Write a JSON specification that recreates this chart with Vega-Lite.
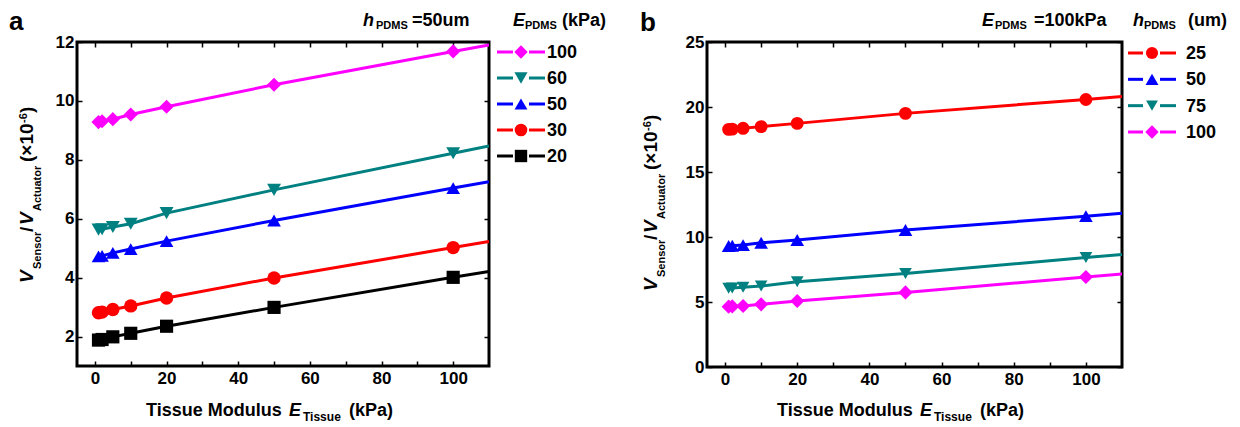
{
  "$schema": "https://vega.github.io/schema/vega-lite/v6.json",
  "padding": {"left": 7, "top": 7, "right": 5, "bottom": 5},
  "background": "white",
  "bounds": "flush",
  "spacing": 0,
  "datasets": {
    "a": [
      {"series": "100", "x": 1, "y": 9.28, "k": "p"}, {"series": "100", "x": 2, "y": 9.31, "k": "p"}, {"series": "100", "x": 5, "y": 9.38, "k": "p"}, {"series": "100", "x": 10, "y": 9.54, "k": "p"}, {"series": "100", "x": 20, "y": 9.8, "k": "p"}, {"series": "100", "x": 50, "y": 10.55, "k": "p"}, {"series": "100", "x": 100, "y": 11.68, "k": "p"}, {"series": "100", "x": 110, "y": 11.9, "k": "e"},
      {"series": "60", "x": 1, "y": 5.63, "k": "p"}, {"series": "60", "x": 2, "y": 5.64, "k": "p"}, {"series": "60", "x": 5, "y": 5.72, "k": "p"}, {"series": "60", "x": 10, "y": 5.83, "k": "p"}, {"series": "60", "x": 20, "y": 6.19, "k": "p"}, {"series": "60", "x": 50, "y": 6.98, "k": "p"}, {"series": "60", "x": 100, "y": 8.22, "k": "p"}, {"series": "60", "x": 110, "y": 8.47, "k": "e"},
      {"series": "50", "x": 1, "y": 4.72, "k": "p"}, {"series": "50", "x": 2, "y": 4.74, "k": "p"}, {"series": "50", "x": 5, "y": 4.84, "k": "p"}, {"series": "50", "x": 10, "y": 4.97, "k": "p"}, {"series": "50", "x": 20, "y": 5.24, "k": "p"}, {"series": "50", "x": 50, "y": 5.94, "k": "p"}, {"series": "50", "x": 100, "y": 7.04, "k": "p"}, {"series": "50", "x": 110, "y": 7.26, "k": "e"},
      {"series": "30", "x": 1, "y": 2.81, "k": "p"}, {"series": "30", "x": 2, "y": 2.83, "k": "p"}, {"series": "30", "x": 5, "y": 2.92, "k": "p"}, {"series": "30", "x": 10, "y": 3.04, "k": "p"}, {"series": "30", "x": 20, "y": 3.31, "k": "p"}, {"series": "30", "x": 50, "y": 3.99, "k": "p"}, {"series": "30", "x": 100, "y": 5.02, "k": "p"}, {"series": "30", "x": 110, "y": 5.23, "k": "e"},
      {"series": "20", "x": 1, "y": 1.88, "k": "p"}, {"series": "20", "x": 2, "y": 1.9, "k": "p"}, {"series": "20", "x": 5, "y": 1.99, "k": "p"}, {"series": "20", "x": 10, "y": 2.11, "k": "p"}, {"series": "20", "x": 20, "y": 2.35, "k": "p"}, {"series": "20", "x": 50, "y": 2.99, "k": "p"}, {"series": "20", "x": 100, "y": 4.01, "k": "p"}, {"series": "20", "x": 110, "y": 4.21, "k": "e"}
    ],
    "b": [
      {"series": "25", "x": 1, "y": 18.28, "k": "p"}, {"series": "25", "x": 2, "y": 18.3, "k": "p"}, {"series": "25", "x": 5, "y": 18.36, "k": "p"}, {"series": "25", "x": 10, "y": 18.49, "k": "p"}, {"series": "25", "x": 20, "y": 18.74, "k": "p"}, {"series": "25", "x": 50, "y": 19.51, "k": "p"}, {"series": "25", "x": 100, "y": 20.58, "k": "p"}, {"series": "25", "x": 110, "y": 20.8, "k": "e"},
      {"series": "50", "x": 1, "y": 9.31, "k": "p"}, {"series": "50", "x": 2, "y": 9.33, "k": "p"}, {"series": "50", "x": 5, "y": 9.38, "k": "p"}, {"series": "50", "x": 10, "y": 9.56, "k": "p"}, {"series": "50", "x": 20, "y": 9.77, "k": "p"}, {"series": "50", "x": 50, "y": 10.54, "k": "p"}, {"series": "50", "x": 100, "y": 11.6, "k": "p"}, {"series": "50", "x": 110, "y": 11.82, "k": "e"},
      {"series": "75", "x": 1, "y": 6.05, "k": "p"}, {"series": "75", "x": 2, "y": 6.07, "k": "p"}, {"series": "75", "x": 5, "y": 6.13, "k": "p"}, {"series": "75", "x": 10, "y": 6.23, "k": "p"}, {"series": "75", "x": 20, "y": 6.56, "k": "p"}, {"series": "75", "x": 50, "y": 7.2, "k": "p"}, {"series": "75", "x": 100, "y": 8.42, "k": "p"}, {"series": "75", "x": 110, "y": 8.66, "k": "e"},
      {"series": "100", "x": 1, "y": 4.64, "k": "p"}, {"series": "100", "x": 2, "y": 4.66, "k": "p"}, {"series": "100", "x": 5, "y": 4.69, "k": "p"}, {"series": "100", "x": 10, "y": 4.82, "k": "p"}, {"series": "100", "x": 20, "y": 5.08, "k": "p"}, {"series": "100", "x": 50, "y": 5.74, "k": "p"}, {"series": "100", "x": 100, "y": 6.92, "k": "p"}, {"series": "100", "x": 110, "y": 7.15, "k": "e"}
    ],
    "legA": [{"series": "100"}, {"series": "60"}, {"series": "50"}, {"series": "30"}, {"series": "20"}],
    "legB": [{"series": "25"}, {"series": "50"}, {"series": "75"}, {"series": "100"}]
  },
  "resolve": {"scale": {"x": "independent", "y": "independent", "color": "independent", "shape": "independent", "size": "independent"}},
  "hconcat": [
    {
      "width": 412, "height": 324,
      "data": {"name": "a"},
      "resolve": {"axis": {"x": "independent", "y": "independent"}},
      "layer": [
        {
          "mark": {"type": "line", "strokeWidth": 3, "clip": true},
          "encoding": {
            "x": {"field": "x", "type": "quantitative", "scale": {"domain": [-5, 110], "nice": false, "zero": false}, "axis": {"values": [0, 10, 20, 30, 40, 50, 60, 70, 80, 90, 100], "labelExpr": "datum.value % 20 === 0 ? datum.label : ''", "labelPadding": 9}, "title": null},
            "y": {"field": "y", "type": "quantitative", "scale": {"domain": [1, 12], "nice": false, "zero": false}, "axis": {"values": [2, 4, 6, 8, 10, 12]}, "title": null},
            "color": {"field": "series", "type": "nominal", "scale": {"domain": ["100", "60", "50", "30", "20", "25", "75"], "range": ["#FF00FF", "#008080", "#0000FF", "#FF0000", "#000000", "#FF0000", "#008080"]}, "legend": null}
          }
        },
        {
          "transform": [{"filter": "datum.k === 'p'"}],
          "mark": {"type": "point", "filled": true, "opacity": 1},
          "encoding": {
            "x": {"field": "x", "type": "quantitative", "axis": {"values": [0, 10, 20, 30, 40, 50, 60, 70, 80, 90, 100], "labels": false, "title": null}},
            "y": {"field": "y", "type": "quantitative", "axis": {"values": [2, 4, 6, 8, 10, 12], "labels": false, "title": null}},
            "color": {"field": "series", "type": "nominal", "legend": null},
            "shape": {"field": "series", "type": "nominal", "scale": {"domain": ["100", "60", "50", "30", "20", "25", "75"], "range": ["diamond", "triangle-down", "triangle-up", "circle", "square", "circle", "triangle-down"]}, "legend": null},
            "size": {"field": "series", "type": "nominal", "scale": {"domain": ["100", "60", "50", "30", "20", "25", "75"], "range": [200, 160, 160, 120, 80, 120, 160]}, "legend": null}
          }
        },
        {
          "data": {"values": [{"s": "a"}]},
          "mark": {"type": "text", "align": "left", "baseline": "alphabetic", "fontSize": 26, "dx": -68, "dy": -12},
          "encoding": {"x": {"datum": -5, "axis": null}, "y": {"datum": 12, "axis": null}, "text": {"field": "s"}}
        },
        {
          "data": {"values": [{"s": "h"}]},
          "mark": {"type": "text", "align": "left", "baseline": "alphabetic", "fontSize": 18, "fontStyle": "italic", "dx": -126, "dy": -16},
          "encoding": {"x": {"datum": 110, "axis": null}, "y": {"datum": 12, "axis": null}, "text": {"field": "s"}}
        },
        {
          "data": {"values": [{"s": "PDMS"}]},
          "mark": {"type": "text", "align": "left", "baseline": "alphabetic", "fontSize": 11, "dx": -113, "dy": -13},
          "encoding": {"x": {"datum": 110, "axis": null}, "y": {"datum": 12, "axis": null}, "text": {"field": "s"}}
        },
        {
          "data": {"values": [{"s": "=50um"}]},
          "mark": {"type": "text", "align": "left", "baseline": "alphabetic", "fontSize": 18, "dx": -77, "dy": -16},
          "encoding": {"x": {"datum": 110, "axis": null}, "y": {"datum": 12, "axis": null}, "text": {"field": "s"}}
        },
        {
          "data": {"values": [{"s": "Tissue Modulus"}]},
          "mark": {"type": "text", "align": "left", "baseline": "alphabetic", "fontSize": 18, "dx": 69, "dy": 50},
          "encoding": {"x": {"datum": -5, "axis": null}, "y": {"datum": 1, "axis": null}, "text": {"field": "s"}}
        },
        {
          "data": {"values": [{"s": "E"}]},
          "mark": {"type": "text", "align": "left", "baseline": "alphabetic", "fontSize": 18, "fontStyle": "italic", "dx": 212, "dy": 50},
          "encoding": {"x": {"datum": -5, "axis": null}, "y": {"datum": 1, "axis": null}, "text": {"field": "s"}}
        },
        {
          "data": {"values": [{"s": "Tissue"}]},
          "mark": {"type": "text", "align": "left", "baseline": "alphabetic", "fontSize": 12, "dx": 226, "dy": 55},
          "encoding": {"x": {"datum": -5, "axis": null}, "y": {"datum": 1, "axis": null}, "text": {"field": "s"}}
        },
        {
          "data": {"values": [{"s": "(kPa)"}]},
          "mark": {"type": "text", "align": "left", "baseline": "alphabetic", "fontSize": 18, "dx": 272, "dy": 50},
          "encoding": {"x": {"datum": -5, "axis": null}, "y": {"datum": 1, "axis": null}, "text": {"field": "s"}}
        },
        {
          "data": {"values": [{"s": "V"}]},
          "mark": {"type": "text", "align": "left", "baseline": "alphabetic", "angle": 270, "fontSize": 19, "fontStyle": "italic", "dx": 83, "dy": -44},
          "encoding": {"x": {"datum": -5, "axis": null}, "y": {"datum": 1, "axis": null}, "text": {"field": "s"}}
        },
        {
          "data": {"values": [{"s": "Sensor"}]},
          "mark": {"type": "text", "align": "left", "baseline": "alphabetic", "angle": 270, "fontSize": 11, "dx": 97, "dy": -36},
          "encoding": {"x": {"datum": -5, "axis": null}, "y": {"datum": 1, "axis": null}, "text": {"field": "s"}}
        },
        {
          "data": {"values": [{"s": "/"}]},
          "mark": {"type": "text", "align": "left", "baseline": "alphabetic", "angle": 270, "fontSize": 19, "dx": 134, "dy": -44},
          "encoding": {"x": {"datum": -5, "axis": null}, "y": {"datum": 1, "axis": null}, "text": {"field": "s"}}
        },
        {
          "data": {"values": [{"s": "V"}]},
          "mark": {"type": "text", "align": "left", "baseline": "alphabetic", "angle": 270, "fontSize": 19, "fontStyle": "italic", "dx": 141, "dy": -44},
          "encoding": {"x": {"datum": -5, "axis": null}, "y": {"datum": 1, "axis": null}, "text": {"field": "s"}}
        },
        {
          "data": {"values": [{"s": "Actuator"}]},
          "mark": {"type": "text", "align": "left", "baseline": "alphabetic", "angle": 270, "fontSize": 11, "dx": 155, "dy": -36},
          "encoding": {"x": {"datum": -5, "axis": null}, "y": {"datum": 1, "axis": null}, "text": {"field": "s"}}
        },
        {
          "data": {"values": [{"s": "(×10"}]},
          "mark": {"type": "text", "align": "left", "baseline": "alphabetic", "angle": 270, "fontSize": 19, "dx": 204, "dy": -44},
          "encoding": {"x": {"datum": -5, "axis": null}, "y": {"datum": 1, "axis": null}, "text": {"field": "s"}}
        },
        {
          "data": {"values": [{"s": "-6"}]},
          "mark": {"type": "text", "align": "left", "baseline": "alphabetic", "angle": 270, "fontSize": 11, "dx": 243, "dy": -50},
          "encoding": {"x": {"datum": -5, "axis": null}, "y": {"datum": 1, "axis": null}, "text": {"field": "s"}}
        },
        {
          "data": {"values": [{"s": ")"}]},
          "mark": {"type": "text", "align": "left", "baseline": "alphabetic", "angle": 270, "fontSize": 19, "dx": 253, "dy": -44},
          "encoding": {"x": {"datum": -5, "axis": null}, "y": {"datum": 1, "axis": null}, "text": {"field": "s"}}
        }
      ]
    },
    {
      "width": 218, "height": 324,
      "view": {"stroke": null},
      "data": {"name": "legA"},
      "layer": [
        {
          "mark": {"type": "rule", "strokeWidth": 3},
          "encoding": {
            "x": {"datum": 8, "type": "quantitative", "scale": {"domain": [0, 218], "nice": false, "zero": false}, "axis": null},
            "x2": {"datum": 24},
            "y": {"field": "series", "type": "ordinal", "scale": {"type": "point", "domain": ["100", "60", "50", "30", "20"], "range": [10, 114], "padding": 0}, "axis": null},
            "color": {"field": "series", "type": "nominal", "scale": {"domain": ["100", "60", "50", "30", "20", "25", "75"], "range": ["#FF00FF", "#008080", "#0000FF", "#FF0000", "#000000", "#FF0000", "#008080"]}, "legend": null}
          }
        },
        {
          "mark": {"type": "rule", "strokeWidth": 3},
          "encoding": {
            "x": {"datum": 40, "type": "quantitative"}, "x2": {"datum": 56},
            "y": {"field": "series", "type": "ordinal"},
            "color": {"field": "series", "type": "nominal", "legend": null}
          }
        },
        {
          "mark": {"type": "point", "filled": true, "opacity": 1},
          "encoding": {
            "x": {"datum": 32, "type": "quantitative"},
            "y": {"field": "series", "type": "ordinal"},
            "color": {"field": "series", "type": "nominal", "legend": null},
            "shape": {"field": "series", "type": "nominal", "scale": {"domain": ["100", "60", "50", "30", "20", "25", "75"], "range": ["diamond", "triangle-down", "triangle-up", "circle", "square", "circle", "triangle-down"]}, "legend": null},
            "size": {"field": "series", "type": "nominal", "scale": {"domain": ["100", "60", "50", "30", "20", "25", "75"], "range": [180, 140, 140, 110, 70, 110, 140]}, "legend": null}
          }
        },
        {
          "mark": {"type": "text", "align": "left", "baseline": "middle", "fontSize": 18, "dy": 1},
          "encoding": {
            "x": {"datum": 58, "type": "quantitative"},
            "y": {"field": "series", "type": "ordinal"},
            "text": {"field": "series"}
          }
        },
        {
          "data": {"values": [{"s": "E"}]},
          "mark": {"type": "text", "align": "left", "baseline": "alphabetic", "fontSize": 18, "fontStyle": "italic", "dy": -26},
          "encoding": {"x": {"datum": 24, "type": "quantitative"}, "y": {"datum": "100", "type": "ordinal"}, "text": {"field": "s"}}
        },
        {
          "data": {"values": [{"s": "PDMS"}]},
          "mark": {"type": "text", "align": "left", "baseline": "alphabetic", "fontSize": 11, "dy": -23},
          "encoding": {"x": {"datum": 36, "type": "quantitative"}, "y": {"datum": "100", "type": "ordinal"}, "text": {"field": "s"}}
        },
        {
          "data": {"values": [{"s": "(kPa)"}]},
          "mark": {"type": "text", "align": "left", "baseline": "alphabetic", "fontSize": 18, "dy": -26},
          "encoding": {"x": {"datum": 73, "type": "quantitative"}, "y": {"datum": "100", "type": "ordinal"}, "text": {"field": "s"}}
        }
      ]
    },
    {
      "width": 415, "height": 325,
      "data": {"name": "b"},
      "resolve": {"axis": {"x": "independent", "y": "independent"}},
      "layer": [
        {
          "mark": {"type": "line", "strokeWidth": 3, "clip": true},
          "encoding": {
            "x": {"field": "x", "type": "quantitative", "scale": {"domain": [-5, 110], "nice": false, "zero": false}, "axis": {"values": [0, 10, 20, 30, 40, 50, 60, 70, 80, 90, 100], "labelExpr": "datum.value % 20 === 0 ? datum.label : ''", "labelPadding": 9}, "title": null},
            "y": {"field": "y", "type": "quantitative", "scale": {"domain": [0, 25], "nice": false}, "axis": {"values": [0, 5, 10, 15, 20, 25]}, "title": null},
            "color": {"field": "series", "type": "nominal", "scale": {"domain": ["100", "60", "50", "30", "20", "25", "75"], "range": ["#FF00FF", "#008080", "#0000FF", "#FF0000", "#000000", "#FF0000", "#008080"]}, "legend": null}
          }
        },
        {
          "transform": [{"filter": "datum.k === 'p'"}],
          "mark": {"type": "point", "filled": true, "opacity": 1},
          "encoding": {
            "x": {"field": "x", "type": "quantitative", "axis": {"values": [0, 10, 20, 30, 40, 50, 60, 70, 80, 90, 100], "labels": false, "title": null}},
            "y": {"field": "y", "type": "quantitative", "axis": {"values": [0, 5, 10, 15, 20, 25], "labels": false, "title": null}},
            "color": {"field": "series", "type": "nominal", "legend": null},
            "shape": {"field": "series", "type": "nominal", "scale": {"domain": ["100", "60", "50", "30", "20", "25", "75"], "range": ["diamond", "triangle-down", "triangle-up", "circle", "square", "circle", "triangle-down"]}, "legend": null},
            "size": {"field": "series", "type": "nominal", "scale": {"domain": ["100", "60", "50", "30", "20", "25", "75"], "range": [200, 160, 160, 120, 80, 120, 160]}, "legend": null}
          }
        },
        {
          "data": {"values": [{"s": "b"}]},
          "mark": {"type": "text", "align": "left", "baseline": "alphabetic", "fontSize": 26, "dx": -67, "dy": -11},
          "encoding": {"x": {"datum": -5, "axis": null}, "y": {"datum": 25, "axis": null}, "text": {"field": "s"}}
        },
        {
          "data": {"values": [{"s": "E"}]},
          "mark": {"type": "text", "align": "left", "baseline": "alphabetic", "fontSize": 18, "fontStyle": "italic", "dx": -140, "dy": -16},
          "encoding": {"x": {"datum": 110, "axis": null}, "y": {"datum": 25, "axis": null}, "text": {"field": "s"}}
        },
        {
          "data": {"values": [{"s": "PDMS"}]},
          "mark": {"type": "text", "align": "left", "baseline": "alphabetic", "fontSize": 11, "dx": -127, "dy": -13},
          "encoding": {"x": {"datum": 110, "axis": null}, "y": {"datum": 25, "axis": null}, "text": {"field": "s"}}
        },
        {
          "data": {"values": [{"s": "=100kPa"}]},
          "mark": {"type": "text", "align": "left", "baseline": "alphabetic", "fontSize": 18, "dx": -88, "dy": -16},
          "encoding": {"x": {"datum": 110, "axis": null}, "y": {"datum": 25, "axis": null}, "text": {"field": "s"}}
        },
        {
          "data": {"values": [{"s": "Tissue Modulus"}]},
          "mark": {"type": "text", "align": "left", "baseline": "alphabetic", "fontSize": 18, "dx": 70, "dy": 49},
          "encoding": {"x": {"datum": -5, "axis": null}, "y": {"datum": 0, "axis": null}, "text": {"field": "s"}}
        },
        {
          "data": {"values": [{"s": "E"}]},
          "mark": {"type": "text", "align": "left", "baseline": "alphabetic", "fontSize": 18, "fontStyle": "italic", "dx": 213, "dy": 49},
          "encoding": {"x": {"datum": -5, "axis": null}, "y": {"datum": 0, "axis": null}, "text": {"field": "s"}}
        },
        {
          "data": {"values": [{"s": "Tissue"}]},
          "mark": {"type": "text", "align": "left", "baseline": "alphabetic", "fontSize": 12, "dx": 227, "dy": 54},
          "encoding": {"x": {"datum": -5, "axis": null}, "y": {"datum": 0, "axis": null}, "text": {"field": "s"}}
        },
        {
          "data": {"values": [{"s": "(kPa)"}]},
          "mark": {"type": "text", "align": "left", "baseline": "alphabetic", "fontSize": 18, "dx": 273, "dy": 49},
          "encoding": {"x": {"datum": -5, "axis": null}, "y": {"datum": 0, "axis": null}, "text": {"field": "s"}}
        },
        {
          "data": {"values": [{"s": "V"}]},
          "mark": {"type": "text", "align": "left", "baseline": "alphabetic", "angle": 270, "fontSize": 19, "fontStyle": "italic", "dx": 76, "dy": -50},
          "encoding": {"x": {"datum": -5, "axis": null}, "y": {"datum": 0, "axis": null}, "text": {"field": "s"}}
        },
        {
          "data": {"values": [{"s": "Sensor"}]},
          "mark": {"type": "text", "align": "left", "baseline": "alphabetic", "angle": 270, "fontSize": 11, "dx": 90, "dy": -42},
          "encoding": {"x": {"datum": -5, "axis": null}, "y": {"datum": 0, "axis": null}, "text": {"field": "s"}}
        },
        {
          "data": {"values": [{"s": "/"}]},
          "mark": {"type": "text", "align": "left", "baseline": "alphabetic", "angle": 270, "fontSize": 19, "dx": 127, "dy": -50},
          "encoding": {"x": {"datum": -5, "axis": null}, "y": {"datum": 0, "axis": null}, "text": {"field": "s"}}
        },
        {
          "data": {"values": [{"s": "V"}]},
          "mark": {"type": "text", "align": "left", "baseline": "alphabetic", "angle": 270, "fontSize": 19, "fontStyle": "italic", "dx": 134, "dy": -50},
          "encoding": {"x": {"datum": -5, "axis": null}, "y": {"datum": 0, "axis": null}, "text": {"field": "s"}}
        },
        {
          "data": {"values": [{"s": "Actuator"}]},
          "mark": {"type": "text", "align": "left", "baseline": "alphabetic", "angle": 270, "fontSize": 11, "dx": 148, "dy": -42},
          "encoding": {"x": {"datum": -5, "axis": null}, "y": {"datum": 0, "axis": null}, "text": {"field": "s"}}
        },
        {
          "data": {"values": [{"s": "(×10"}]},
          "mark": {"type": "text", "align": "left", "baseline": "alphabetic", "angle": 270, "fontSize": 19, "dx": 197, "dy": -50},
          "encoding": {"x": {"datum": -5, "axis": null}, "y": {"datum": 0, "axis": null}, "text": {"field": "s"}}
        },
        {
          "data": {"values": [{"s": "-6"}]},
          "mark": {"type": "text", "align": "left", "baseline": "alphabetic", "angle": 270, "fontSize": 11, "dx": 236, "dy": -56},
          "encoding": {"x": {"datum": -5, "axis": null}, "y": {"datum": 0, "axis": null}, "text": {"field": "s"}}
        },
        {
          "data": {"values": [{"s": ")"}]},
          "mark": {"type": "text", "align": "left", "baseline": "alphabetic", "angle": 270, "fontSize": 19, "dx": 246, "dy": -50},
          "encoding": {"x": {"datum": -5, "axis": null}, "y": {"datum": 0, "axis": null}, "text": {"field": "s"}}
        }
      ]
    },
    {
      "width": 118, "height": 325,
      "view": {"stroke": null},
      "data": {"name": "legB"},
      "layer": [
        {
          "mark": {"type": "rule", "strokeWidth": 3},
          "encoding": {
            "x": {"datum": 6, "type": "quantitative", "scale": {"domain": [0, 118], "nice": false, "zero": false}, "axis": null},
            "x2": {"datum": 21},
            "y": {"field": "series", "type": "ordinal", "scale": {"type": "point", "domain": ["25", "50", "75", "100"], "range": [11, 90], "padding": 0}, "axis": null},
            "color": {"field": "series", "type": "nominal", "scale": {"domain": ["100", "60", "50", "30", "20", "25", "75"], "range": ["#FF00FF", "#008080", "#0000FF", "#FF0000", "#000000", "#FF0000", "#008080"]}, "legend": null}
          }
        },
        {
          "mark": {"type": "rule", "strokeWidth": 3},
          "encoding": {
            "x": {"datum": 38, "type": "quantitative"}, "x2": {"datum": 54},
            "y": {"field": "series", "type": "ordinal"},
            "color": {"field": "series", "type": "nominal", "legend": null}
          }
        },
        {
          "mark": {"type": "point", "filled": true, "opacity": 1},
          "encoding": {
            "x": {"datum": 30, "type": "quantitative"},
            "y": {"field": "series", "type": "ordinal"},
            "color": {"field": "series", "type": "nominal", "legend": null},
            "shape": {"field": "series", "type": "nominal", "scale": {"domain": ["100", "60", "50", "30", "20", "25", "75"], "range": ["diamond", "triangle-down", "triangle-up", "circle", "square", "circle", "triangle-down"]}, "legend": null},
            "size": {"field": "series", "type": "nominal", "scale": {"domain": ["100", "60", "50", "30", "20", "25", "75"], "range": [180, 140, 140, 110, 70, 110, 140]}, "legend": null}
          }
        },
        {
          "mark": {"type": "text", "align": "left", "baseline": "middle", "fontSize": 18, "dy": 1},
          "encoding": {
            "x": {"datum": 64, "type": "quantitative"},
            "y": {"field": "series", "type": "ordinal"},
            "text": {"field": "series"}
          }
        },
        {
          "data": {"values": [{"s": "h"}]},
          "mark": {"type": "text", "align": "left", "baseline": "alphabetic", "fontSize": 18, "fontStyle": "italic", "dy": -27},
          "encoding": {"x": {"datum": 11, "type": "quantitative"}, "y": {"datum": "25", "type": "ordinal"}, "text": {"field": "s"}}
        },
        {
          "data": {"values": [{"s": "PDMS"}]},
          "mark": {"type": "text", "align": "left", "baseline": "alphabetic", "fontSize": 11, "dy": -24},
          "encoding": {"x": {"datum": 22, "type": "quantitative"}, "y": {"datum": "25", "type": "ordinal"}, "text": {"field": "s"}}
        },
        {
          "data": {"values": [{"s": "(um)"}]},
          "mark": {"type": "text", "align": "left", "baseline": "alphabetic", "fontSize": 18, "dy": -27},
          "encoding": {"x": {"datum": 66, "type": "quantitative"}, "y": {"datum": "25", "type": "ordinal"}, "text": {"field": "s"}}
        }
      ]
    }
  ],
  "config": {
    "font": "Liberation Sans",
    "view": {"stroke": "black", "strokeWidth": 3},
    "axis": {
      "labelFont": "Liberation Sans", "labelFontSize": 17, "labelFontWeight": "bold", "labelColor": "black",
      "domain": false, "grid": false, "tickColor": "black", "tickWidth": 1.5, "tickSize": -5, "labelPadding": 8
    },
    "text": {"font": "Liberation Sans", "fontWeight": "bold", "color": "black"}
  }
}
